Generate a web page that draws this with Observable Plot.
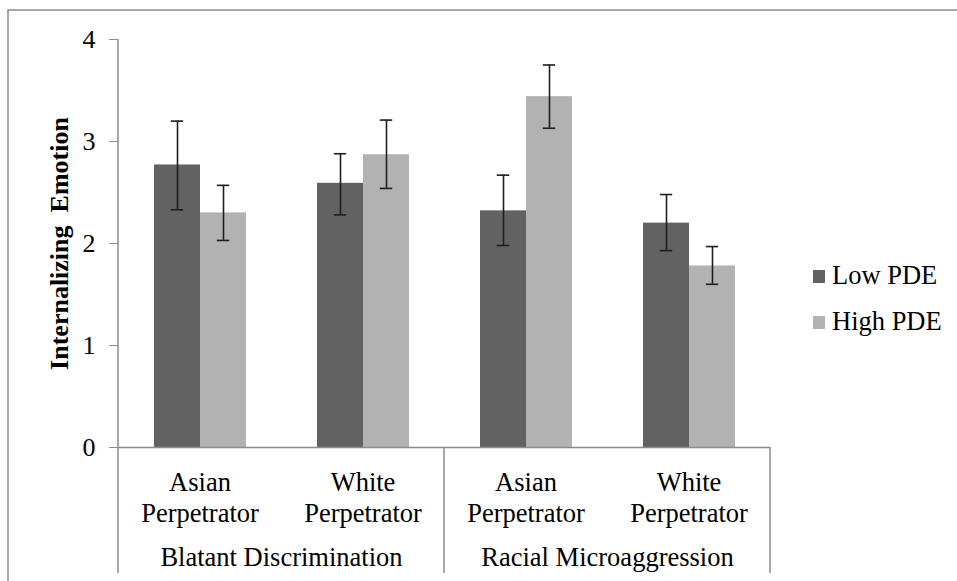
<!DOCTYPE html>
<html>
<head>
<meta charset="utf-8">
<script src="https://cdn.jsdelivr.net/npm/d3@7"></script>
<script src="https://cdn.jsdelivr.net/npm/@observablehq/plot@0.6"></script>
<style>
  html, body { margin: 0; padding: 0; background: #fff; }
  #chart { position: relative; width: 957px; height: 581px; overflow: hidden; }
  #chart svg text, #chart svg tspan {
    font-family: "Liberation Serif", "Times New Roman", Times, serif !important;
  }
</style>
</head>
<body>
<div id="chart"></div>
<script>
// ---- Data ----
const conditions = [
  "Blatant Discrimination / Asian Perpetrator",
  "Blatant Discrimination / White Perpetrator",
  "Racial Microaggression / Asian Perpetrator",
  "Racial Microaggression / White Perpetrator"
];
const perpetratorLabels = ["Asian\nPerpetrator", "White\nPerpetrator", "Asian\nPerpetrator", "White\nPerpetrator"];
const discriminationTypes = ["Blatant Discrimination", "Racial Microaggression"];
const levels = ["Low PDE", "High PDE"];
const levelColors = ["#626262", "#b2b2b2"];

const lowPDE = [2.77, 2.59, 2.32, 2.20];
const lowPDELower = [2.33, 2.28, 1.98, 1.93];
const lowPDEUpper = [3.20, 2.88, 2.67, 2.48];

const highPDE = [2.30, 2.87, 3.44, 1.78];
const highPDELower = [2.03, 2.54, 3.13, 1.60];
const highPDEUpper = [2.57, 3.21, 3.75, 1.97];

const yTicks = [0, 1, 2, 3, 4];
const yTitle = "Internalizing\u00a0\u00a0Emotion";

// ---- Table built from the arrays ----
const rows = [];
conditions.forEach((c, i) => {
  rows.push({cond: c, level: levels[0], value: lowPDE[i], lo: lowPDELower[i], hi: lowPDEUpper[i]});
  rows.push({cond: c, level: levels[1], value: highPDE[i], lo: highPDELower[i], hi: highPDEUpper[i]});
});

const font = "Liberation Serif";
const axisGray = "#8c8c8c";

const plot = Plot.plot({
  width: 957,
  height: 581,
  marginLeft: 117,
  marginRight: 186,
  marginTop: 39,
  marginBottom: 134,
  style: {fontSize: "26px", color: "#000", background: "#fff", overflow: "visible"},
  fx: {domain: conditions, padding: 0, axis: null, label: null},
  x: {domain: levels, paddingInner: 0, paddingOuter: 0.76, axis: null},
  y: {domain: [0, 4], ticks: yTicks, label: null, axis: null},
  color: {domain: levels, range: levelColors},
  marks: [
    Plot.barY(rows, {fx: "cond", x: "level", y: "value", fill: "level"}),
    Plot.ruleX(rows, {fx: "cond", x: "level", y1: "lo", y2: "hi", stroke: "#1e1e1e", strokeWidth: 1.6}),
    Plot.tickY(rows, {fx: "cond", x: "level", y: "hi", stroke: "#1e1e1e", strokeWidth: 1.6, insetLeft: 16.8, insetRight: 16.8}),
    Plot.tickY(rows, {fx: "cond", x: "level", y: "lo", stroke: "#1e1e1e", strokeWidth: 1.6, insetLeft: 16.8, insetRight: 16.8}),
    Plot.ruleY([0], {stroke: axisGray, strokeWidth: 1.5}),
    Plot.axisY({ticks: yTicks, tickSize: 9, tickPadding: 14, stroke: axisGray, fill: "#000", fontSize: 26, fontFamily: font, label: null, tickFormat: d3.format("d")}),
    Plot.text(conditions, {fx: d => d, text: (d, i) => perpetratorLabels[i], frameAnchor: "bottom", textAnchor: "middle", lineAnchor: "top", dy: 22.5, lineHeight: 1.14, fontSize: 26.5, fontFamily: font, fill: "#000"}),
    Plot.text(discriminationTypes, {fx: (d, i) => conditions[i * 2], text: d => d, frameAnchor: "bottom-right", textAnchor: "middle", lineAnchor: "top", dy: 100, fontSize: 26.5, fontFamily: font, fill: "#000"}),
    Plot.text([yTitle], {fx: () => conditions[0], text: d => d, frameAnchor: "left", textAnchor: "middle", lineAnchor: "middle", rotate: -90, dx: -59, fontSize: 26, fontFamily: font, fontWeight: "bold", fill: "#000"})
  ]
});

document.getElementById("chart").appendChild(plot);

// ---- Decorations drawn with the plot's own scales ----
const svg = d3.select(plot);
const fx = plot.scale("fx");
const y = plot.scale("y");
const color = plot.scale("color");
const bw = fx.bandwidth;
const y0 = y.apply(0), yTop = y.apply(4);
const catBottom = y0 + 126;

const deco = svg.append("g").attr("fill", "none").attr("stroke", axisGray).attr("stroke-width", 1.5);
// y axis line + left separator
deco.append("line").attr("x1", fx.apply(conditions[0])).attr("x2", fx.apply(conditions[0]))
  .attr("y1", yTop).attr("y2", catBottom);
// middle separator between discrimination types
deco.append("line").attr("x1", fx.apply(conditions[2])).attr("x2", fx.apply(conditions[2]))
  .attr("y1", y0).attr("y2", catBottom);
// right separator
deco.append("line").attr("x1", fx.apply(conditions[3]) + bw).attr("x2", fx.apply(conditions[3]) + bw)
  .attr("y1", y0).attr("y2", catBottom);
// outer chart frame (cut at right and bottom in the reference)
deco.append("rect").attr("x", 8).attr("y", 10).attr("width", 1200).attr("height", 1200);

// legend
const legend = svg.append("g").attr("font-family", font).attr("font-size", 26.5).attr("text-anchor", "start");
levels.forEach((lv, i) => {
  const g = legend.append("g").attr("transform", `translate(813, ${270 + i * 46})`);
  g.append("rect").attr("width", 12).attr("height", 13).attr("fill", color.apply(lv));
  g.append("text").attr("x", 19).attr("y", 14).attr("fill", "#000").attr("text-anchor", "start").text(lv);
});
</script>
</body>
</html>
